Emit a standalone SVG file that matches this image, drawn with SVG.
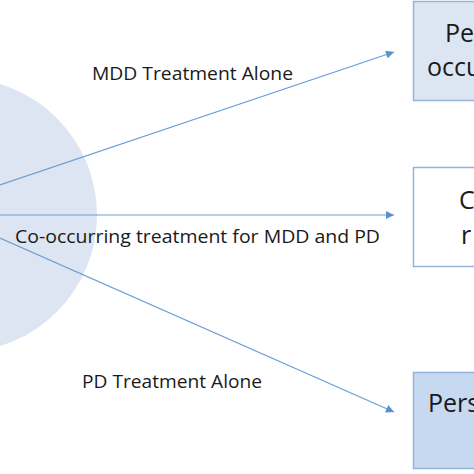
<svg xmlns="http://www.w3.org/2000/svg" width="474" height="474" viewBox="0 0 474 474">
<style>
.lbl{font-family:"Open Sans","Liberation Sans",sans-serif;font-size:19px;fill:#1a1a1a}
.box{font-family:"Open Sans","Liberation Sans",sans-serif;font-size:25px;fill:#1a1a1a}
.conn{stroke:#6a9fd4;stroke-width:1.2;fill:none;marker-end:url(#ah)}
</style>
<defs>
<marker id="ah" viewBox="0 0 10 10" refX="10" refY="5" markerWidth="10" markerHeight="8" markerUnits="userSpaceOnUse" orient="auto">
<path d="M0,0 L10,5 L0,10 z" fill="#5b8fd0"/>
</marker>
</defs>
<rect width="474" height="474" fill="#ffffff"/>
<g id="source"><circle cx="-40" cy="215" r="137" fill="#dce5f1"/></g>
<g id="connectors">
<line class="conn" x1="0" y1="185" x2="394" y2="52"/>
<line class="conn" x1="0" y1="215" x2="394" y2="215"/>
<line class="conn" x1="0" y1="238" x2="394" y2="412"/>
<text class="lbl" x="92" y="80" textLength="201" lengthAdjust="spacingAndGlyphs">MDD Treatment Alone</text>
<text class="lbl" x="15" y="243" textLength="365" lengthAdjust="spacingAndGlyphs">Co-occurring treatment for MDD and PD</text>
<text class="lbl" x="82" y="388" textLength="180" lengthAdjust="spacingAndGlyphs">PD Treatment Alone</text>
</g>
<g id="box1"><rect x="413.5" y="1.5" width="80" height="99" fill="#dce6f2" stroke="#95b3d7" stroke-width="1.5"/>
<text class="box" x="445" y="42">Pe</text><text class="box" x="427" y="76">occu</text></g>
<g id="box2"><rect x="413.5" y="167.5" width="80" height="99" fill="#ffffff" stroke="#95b3d7" stroke-width="1.5"/>
<text class="box" x="459" y="209">C</text><text class="box" x="461" y="244">r</text></g>
<g id="box3"><rect x="413.5" y="372.5" width="80" height="96" fill="#c6d9f1" stroke="#95b3d7" stroke-width="1.5"/>
<text class="box" x="428" y="412">Pers</text></g>
</svg>
